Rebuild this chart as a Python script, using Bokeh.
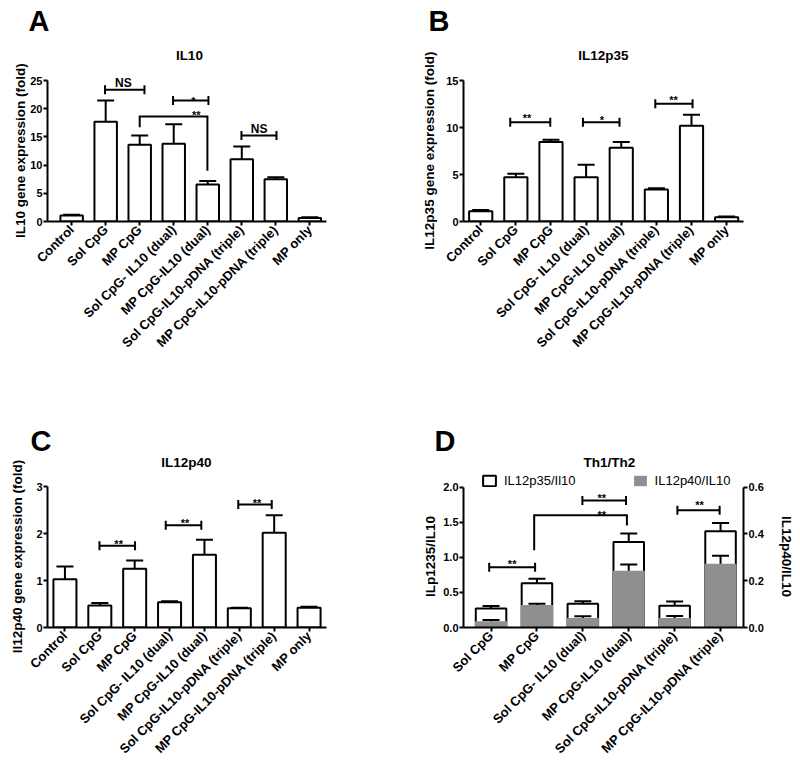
import math
from bokeh.plotting import figure
from bokeh.models import (Range1d, LinearAxis, FixedTicker, Legend, LegendItem,
                          NumeralTickFormatter)
from bokeh.layouts import gridplot
from bokeh.embed import file_html
from bokeh.resources import INLINE
from bokeh.core.properties import value

FONT = "Liberation Sans"
GRAY = "#8f8f8f"
NBSP = "\u00a0"

# ---------------- data ----------------
groups8 = ["Control", "Sol CpG", "MP CpG", "Sol CpG- IL10 (dual)", "MP CpG-IL10 (dual)",
           "Sol CpG-IL10-pDNA (triple)", "MP CpG-IL10-pDNA (triple)", "MP only"]
groups6 = ["Sol CpG", "MP CpG", "Sol CpG- IL10 (dual)", "MP CpG-IL10 (dual)",
           "Sol CpG-IL10-pDNA (triple)", "MP CpG-IL10-pDNA (triple)"]

panel_letters = ["A", "B", "C", "D"]
panel_titles = ["IL10", "IL12p35", "IL12p40", "Th1/Th2"]
y_labels = ["IL10 gene expression (fold)", "IL12p35 gene expression (fold)",
            "Il12p40 gene expression (fold)", "ILp1235/IL10", "IL12p40/IL10"]

il10_mean = [1.05, 17.7, 13.6, 13.8, 6.55, 11.05, 7.5, 0.6]
il10_sem = [0.13, 3.75, 1.65, 3.45, 0.65, 2.25, 0.35, 0.17]

il12p35_mean = [1.08, 4.7, 8.45, 4.7, 7.85, 3.4, 10.2, 0.45]
il12p35_sem = [0.15, 0.37, 0.25, 1.35, 0.6, 0.15, 1.15, 0.07]

il12p40_mean = [1.03, 0.47, 1.25, 0.54, 1.55, 0.41, 2.02, 0.42]
il12p40_sem = [0.27, 0.05, 0.18, 0.02, 0.32, 0.01, 0.37, 0.02]

p35_il10_mean = [0.27, 0.63, 0.34, 1.22, 0.31, 1.37]
p35_il10_sem = [0.035, 0.065, 0.035, 0.12, 0.06, 0.12]
p40_il10_mean = [0.027, 0.096, 0.041, 0.243, 0.041, 0.272]
p40_il10_sem = [0.005, 0.005, 0.007, 0.026, 0.008, 0.035]

# significance brackets (x in group index units, y in data units)
a_br_x0 = [0.98, 2.98, 4.99]
a_br_x1 = [2.14, 4.02, 6.02]
a_br_y = [23.35, 21.45, 15.25]
a_leg = [2.0, 3.99, 18.6, 16.7, 9.0]
a_lbl_text = ["NS", "*", "**", "NS"]
a_lbl_x = [1.52, 3.58, 3.66, 5.51]
a_lbl_y = [24.54, 21.4, 18.92, 16.44]

b_br_x0 = [0.84, 2.91, 4.97]
b_br_x1 = [1.98, 3.95, 6.03]
b_br_y = [10.56, 10.56, 12.52]
b_lbl_text = ["**", "*", "**"]
b_lbl_x = [1.32, 3.45, 5.49]
b_lbl_y = [10.99, 10.82, 12.95]

c_br_x0 = [0.99, 2.89, 4.97]
c_br_x1 = [2.01, 3.91, 5.93]
c_br_y = [1.74, 2.18, 2.62]
c_lbl_text = ["**", "**", "**"]
c_lbl_x = [1.54, 3.44, 5.51]
c_lbl_y = [1.77, 2.23, 2.65]

d_br_x0 = [-0.04, 1.99, 4.06]
d_br_x1 = [0.96, 2.94, 4.98]
d_br_y = [0.86, 1.81, 1.67]
d_leg = [0.94, 2.96, 1.6, 1.10, 1.455]
d_lbl_text = ["**", "**", "**", "**"]
d_lbl_x = [0.46, 2.41, 2.41, 4.54]
d_lbl_y = [0.90, 1.61, 1.84, 1.75]


def style_axis(ax, label_size="11px"):
    ax.axis_line_width = 2
    ax.axis_line_color = "black"
    ax.major_tick_line_width = 2
    ax.major_tick_line_color = "black"
    ax.major_tick_out = 4
    ax.major_tick_in = 0
    ax.minor_tick_line_color = None
    ax.major_label_text_font = FONT
    ax.major_label_text_font_style = "bold"
    ax.major_label_text_font_size = label_size
    ax.major_label_text_color = "black"
    ax.axis_label_text_font = FONT
    ax.axis_label_text_font_style = "bold"
    ax.axis_label_text_font_size = "13.5px"
    ax.axis_label_text_color = "black"


def make_fig(w, h, borders, xr, yr, letter, letter_offset, letter_standoff):
    left, right, top, bottom = borders
    p = figure(width=w, height=h, x_range=Range1d(*xr), y_range=Range1d(*yr),
               output_backend="svg", toolbar_location=None, tools="",
               x_axis_location=None, y_axis_location=None,
               min_border_left=left, min_border_right=right,
               min_border_top=top, min_border_bottom=bottom, title=letter)
    p.outline_line_color = None
    p.grid.visible = False
    p.background_fill_color = "white"
    p.border_fill_color = "white"
    p.title.text_font = FONT
    p.title.text_font_size = "29px"
    p.title.text_font_style = "bold"
    p.title.text_color = "black"
    p.title.align = "left"
    p.title.offset = letter_offset
    p.title.standoff = letter_standoff
    return p


def panel_title(p, x, y, t):
    p.text(x=[x], y=[y], text=[t], text_font=value(FONT), text_font_style="bold",
           text_font_size="13.5px", text_align="center", text_baseline="middle",
           text_color="black")


def add_x_axis(p, groups):
    ax = LinearAxis(ticker=FixedTicker(ticks=list(range(len(groups)))),
                    major_label_overrides={i: g for i, g in enumerate(groups)})
    style_axis(ax, "13px")
    ax.major_label_orientation = math.pi / 4
    ax.major_label_standoff = 2
    p.add_layout(ax, "below")


def add_y_axis(p, ticks, bounds, label, standoff, lab_standoff=1, fmt=None,
               side="left", range_name="default", shift=0):
    # shift: number of no-break spaces used to move the label along the axis
    # so that it centres on the drawn axis line instead of the whole frame
    if side == "left":
        text = label + NBSP * shift
    else:
        text = NBSP * shift + label
    ax = LinearAxis(ticker=FixedTicker(ticks=ticks), bounds=bounds, axis_label=text,
                    y_range_name=range_name)
    style_axis(ax)
    ax.axis_label_standoff = standoff
    ax.major_label_standoff = lab_standoff
    if fmt:
        ax.formatter = NumeralTickFormatter(format=fmt)
    p.add_layout(ax, side)


def bars(p, xs, means, sems, width, cap=17, fill="white", line="black", range_name="default"):
    r = p.vbar(x=xs, top=means, bottom=0, width=width, fill_color=fill,
               line_color=line, line_width=2 if line else 0, y_range_name=range_name)
    ups = [m + s for m, s in zip(means, sems)]
    p.segment(x0=xs, y0=means, x1=xs, y1=ups, line_color="black", line_width=2,
              y_range_name=range_name)
    p.scatter(x=xs, y=ups, marker="dash", size=cap, line_color="black", line_width=2,
              y_range_name=range_name)
    return r


def brackets(p, x0, x1, y):
    p.segment(x0=x0, y0=y, x1=x1, y1=y, line_color="black", line_width=2)
    p.scatter(x=x0 + x1, y=y + y, marker="dash", angle=math.pi / 2, size=9,
              line_color="black", line_width=2)


def leg_bracket(p, leg):
    x0, x1, y, yl, yr = leg
    p.multi_line(xs=[[x0, x0, x1, x1]], ys=[[yl, y, y, yr]], line_color="black",
                 line_width=2, line_join="miter")


def labels(p, xs, ys, texts):
    sizes = ["12px" if t == "NS" else "11px" for t in texts]
    p.text(x=xs, y=ys, text=texts, text_font=value(FONT), text_font_style="bold",
           text_font_size=sizes, text_align="center", text_baseline="alphabetic",
           text_color="black")


x8 = list(range(8))
x6 = list(range(6))

# ---------------- Panel A ----------------
pA = make_fig(400, 408, (47, 66, 38, 187), (-0.71, 7.49), (0, 32.45), panel_letters[0], -19, 3)
bars(pA, x8, il10_mean, il10_sem, 0.66)
brackets(pA, a_br_x0, a_br_x1, a_br_y)
leg_bracket(pA, a_leg)
labels(pA, a_lbl_x, a_lbl_y, a_lbl_text)
panel_title(pA, 3.46, 29.43, panel_titles[0])
add_x_axis(pA, groups8)
add_y_axis(pA, [0, 5, 10, 15, 20, 25], (0, 25), y_labels[0], -1, shift=11)

# ---------------- Panel B ----------------
pB = make_fig(400, 408, (63, 57, 38, 187), (-0.49, 7.48), (0, 19.47), panel_letters[1], -35, 3)
bars(pB, x8, il12p35_mean, il12p35_sem, 0.66)
brackets(pB, b_br_x0, b_br_x1, b_br_y)
labels(pB, b_lbl_x, b_lbl_y, b_lbl_text)
panel_title(pB, 3.49, 17.66, panel_titles[1])
add_x_axis(pB, groups8)
add_y_axis(pB, [0, 5, 10, 15], (0, 15), y_labels[1], 6, shift=11)

# ---------------- Panel C ----------------
pC = make_fig(400, 368, (45, 74, 47, 148), (-0.50, 7.50), (0, 3.665), panel_letters[2], -17, -3)
bars(pC, x8, il12p40_mean, il12p40_sem, 0.66)
brackets(pC, c_br_x0, c_br_x1, c_br_y)
labels(pC, c_lbl_x, c_lbl_y, c_lbl_text)
panel_title(pC, 3.48, 3.517, panel_titles[2])
add_x_axis(pC, groups8)
add_y_axis(pC, [0, 1, 2, 3], (0, 3), y_labels[2], 8, shift=8)

# ---------------- Panel D ----------------
pD = make_fig(400, 368, (58, 55, 47, 149), (-0.60, 5.50), (0, 2.451), panel_letters[3], -29, -3)
pD.extra_y_ranges = {"right": Range1d(0, 2.451 * 0.3)}
r_white = bars(pD, x6, p35_il10_mean, p35_il10_sem, 0.665)
r_gray = bars(pD, x6, p40_il10_mean, p40_il10_sem, 0.70, fill=GRAY, line=None,
              range_name="right")
brackets(pD, d_br_x0, d_br_x1, d_br_y)
leg_bracket(pD, d_leg)
labels(pD, d_lbl_x, d_lbl_y, d_lbl_text)
panel_title(pD, 2.58, 2.356, panel_titles[3])
add_x_axis(pD, groups6)
add_y_axis(pD, [0, 0.5, 1.0, 1.5, 2.0], (0, 2), y_labels[3], 2, fmt="0.0", shift=8)
add_y_axis(pD, [0, 0.2, 0.4, 0.6], (0, 0.6), y_labels[4], 12, fmt="0.0",
           side="right", range_name="right", shift=8)

legend = Legend(items=[LegendItem(label="IL12p35/Il10", renderers=[r_white]),
                       LegendItem(label="IL12p40/IL10", renderers=[r_gray])],
                orientation="horizontal", location=(18, 139),
                glyph_width=16, glyph_height=13, label_standoff=7, spacing=56,
                padding=0, margin=0, border_line_color=None, background_fill_alpha=0,
                label_text_font=FONT, label_text_font_size="13px", label_height=12,
                label_text_color="black")
pD.add_layout(legend, "center")

grid = gridplot([[pA, pB], [pC, pD]], toolbar_location=None)

open("out.html", "w").write(file_html(grid, INLINE))
